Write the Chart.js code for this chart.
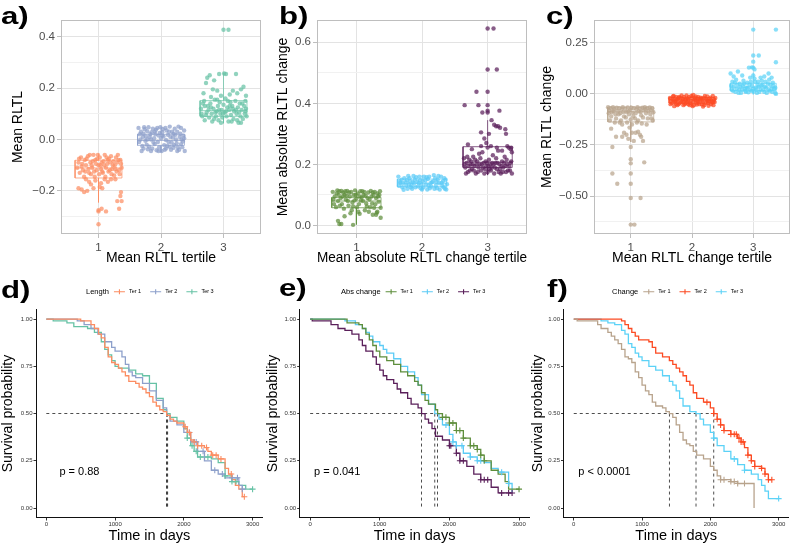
<!DOCTYPE html>
<html><head><meta charset="utf-8">
<script src="https://cdn.jsdelivr.net/npm/chart.js@4.4.1/dist/chart.umd.min.js"></script>
<style>
html,body{margin:0;padding:0;background:#fff;width:794px;height:545px;overflow:hidden;position:relative;}
canvas{position:absolute;}
.lab{position:absolute;font:bold 24px "Liberation Sans",Arial,sans-serif;line-height:24px;color:#000;white-space:nowrap;transform:scaleX(1.3);transform-origin:0 0;}
</style></head><body>
<canvas id="ca" width="265" height="270" style="left:0;top:0"></canvas>
<canvas id="cb" width="280" height="270" style="left:265px;top:0"></canvas>
<canvas id="cc" width="264" height="270" style="left:530px;top:0"></canvas>
<canvas id="cd" width="268" height="275" style="left:0;top:270px"></canvas>
<canvas id="ce" width="270" height="275" style="left:265px;top:270px"></canvas>
<canvas id="cf" width="264" height="275" style="left:530px;top:270px"></canvas>
<div class="lab" style="left:1px;top:4px">a)</div>
<div class="lab" style="left:279px;top:4px">b)</div>
<div class="lab" style="left:546px;top:4px">c)</div>
<div class="lab" style="left:1px;top:278px">d)</div>
<div class="lab" style="left:279px;top:276px">e)</div>
<div class="lab" style="left:547px;top:277px">f)</div>
<script>
// ---------------- DATA ----------------
const tertiles = [1, 2, 3];
const tertileLabels = ['1', '2', '3'];

// panel a: Mean RLTL
const aTer1 = [[0.68,-0.09],[0.72,-0.07],[0.75,-0.12],[0.78,-0.08],[0.80,-0.10],[0.83,-0.065],[0.85,-0.13],[0.87,-0.09],[0.90,-0.11],[0.92,-0.06],[0.95,-0.08],[0.97,-0.12],[1.00,-0.10],[1.02,-0.07],[1.05,-0.09],[1.07,-0.13],[1.10,-0.06],[1.12,-0.11],[1.15,-0.08],[1.18,-0.12],[1.20,-0.065],[1.23,-0.10],[1.25,-0.14],[1.28,-0.07],[1.30,-0.09],[1.33,-0.12],[1.35,-0.08],[1.37,-0.11],
[0.70,-0.13],[0.73,-0.105],[0.77,-0.145],[0.81,-0.075],[0.84,-0.115],[0.88,-0.135],[0.91,-0.085],[0.94,-0.145],[0.98,-0.075],[1.01,-0.135],[1.04,-0.115],[1.08,-0.085],[1.11,-0.145],[1.14,-0.095],[1.17,-0.075],[1.21,-0.135],[1.24,-0.085],[1.27,-0.115],[1.31,-0.06],[1.34,-0.135],[1.36,-0.095],
[0.66,-0.11],[0.69,-0.075],[0.74,-0.095],[0.79,-0.125],[0.86,-0.06],[0.89,-0.10],[0.93,-0.125],[0.96,-0.095],[0.99,-0.06],[1.03,-0.10],[1.06,-0.125],[1.09,-0.10],[1.13,-0.07],[1.16,-0.125],[1.19,-0.09],[1.22,-0.115],[1.26,-0.10],[1.29,-0.125],[1.32,-0.08],
[0.68,-0.19],[0.73,-0.195],[0.77,-0.205],[0.82,-0.20],[0.85,-0.165],[0.88,-0.175],[0.92,-0.19],[0.95,-0.16],[1.00,-0.28],[1.02,-0.185],[1.04,-0.17],[1.06,-0.19],[1.05,-0.27],[1.12,-0.28],[1.15,-0.165],[1.20,-0.155],[1.27,-0.155],[1.30,-0.24],[1.33,-0.27],[1.35,-0.22],[1.37,-0.24],[1.36,-0.205],[1.10,-0.155],[0.80,-0.155]];
const aTer2 = [[1.64,0.045],[1.68,0.03],[1.71,0.01],[1.74,0.04],[1.77,-0.02],[1.80,0.048],[1.83,0.02],[1.86,-0.035],[1.89,0.005],[1.92,0.038],[1.95,-0.01],[1.98,0.025],[2.01,-0.045],[2.04,0.012],[2.07,0.045],[2.10,-0.025],[2.13,0.03],[2.16,-0.04],[2.19,0.008],[2.22,0.042],[2.25,-0.015],[2.28,0.05],[2.31,0.022],[2.34,-0.03],[2.37,0.035],
[1.65,-0.01],[1.69,-0.045],[1.72,0.022],[1.75,-0.005],[1.78,0.032],[1.81,-0.028],[1.84,0.0],[1.87,0.042],[1.90,-0.018],[1.93,-0.042],[1.96,0.015],[1.99,0.048],[2.02,0.028],[2.05,-0.022],[2.08,-0.002],[2.11,0.018],[2.14,0.05],[2.17,-0.012],[2.20,-0.032],[2.23,0.018],[2.26,0.03],[2.29,-0.04],[2.32,0.045],[2.35,-0.008],[2.38,-0.045],
[1.66,0.02],[1.70,-0.025],[1.73,0.048],[1.76,0.012],[1.79,-0.038],[1.82,0.01],[1.85,0.028],[1.88,-0.012],[1.91,0.02],[1.94,0.045],[1.97,-0.03],[2.00,0.005],[2.03,0.04],[2.06,-0.04],[2.09,0.035],[2.12,-0.01],[2.15,0.01],[2.18,0.03],[2.21,-0.022],[2.24,0.0],[2.27,-0.03],[2.30,0.01],[2.33,0.0],[2.36,0.015],
[1.67,0.0],[1.72,-0.035],[1.78,0.0],[1.84,-0.045],[1.90,0.03],[1.96,-0.045],[2.02,0.015],[2.08,-0.035],[2.14,-0.028],[2.20,0.022],[2.26,-0.045],[2.32,-0.018],[2.37,0.005]];
const aTer3 = [[2.78,0.25],[2.93,0.255],[3.01,0.257],[3.04,0.255],[3.20,0.255],[2.74,0.24],[2.85,0.23],[2.72,0.22],[3.32,0.205],[3.28,0.195],[2.83,0.195],[2.90,0.19],[3.15,0.19],[3.22,0.18],[2.68,0.18],[3.10,0.175],[2.96,0.17],[3.36,0.17],[2.80,0.165],
[2.64,0.12],[2.66,0.09],[2.69,0.15],[2.70,0.075],[2.73,0.105],[2.75,0.13],[2.77,0.085],[2.79,0.14],[2.81,0.10],[2.82,0.07],[2.84,0.12],[2.86,0.155],[2.88,0.09],[2.89,0.11],[2.91,0.13],[2.92,0.075],[2.94,0.145],[2.95,0.10],[2.97,0.115],[2.98,0.085],[3.00,0.135],[3.02,0.105],[3.03,0.16],[3.05,0.09],[3.06,0.125],[3.08,0.07],[3.09,0.115],[3.11,0.145],[3.12,0.095],[3.14,0.13],[3.16,0.08],[3.17,0.11],[3.19,0.15],[3.21,0.10],[3.23,0.125],[3.24,0.065],[3.26,0.14],[3.27,0.09],[3.29,0.115],[3.31,0.08],[3.33,0.13],[3.34,0.10],[3.36,0.12],[3.37,0.09],
[2.65,0.10],[2.70,0.13],[2.76,0.115],[2.80,0.125],[2.87,0.105],[2.93,0.115],[2.99,0.10],[3.04,0.11],[3.10,0.13],[3.15,0.12],[3.20,0.115],[3.25,0.105],[3.30,0.14],[3.35,0.11],
[2.72,0.095],[2.85,0.08],[2.96,0.065],[3.13,0.07],[3.28,0.065],[3.22,0.075],[2.67,0.14],[3.07,0.15],[2.90,0.155],[3.35,0.15],[3.08,0.427]];
const aOut1 = [-0.33, -0.275];
const aOut2 = [];
const aOut3 = [0.427];
const aBox1 = [-0.245, -0.150, -0.111, -0.081, -0.055];
const aBox2 = [-0.050, -0.023, -0.004, 0.020, 0.050];
const aBox3 = [0.063, 0.090, 0.112, 0.151, 0.260];
const aYTicks = [-0.2, 0, 0.2, 0.4];
const aYLabels = ['\u22120.2', '0.0', '0.2', '0.4'];
const aYMinor = [-0.3, -0.1, 0.1, 0.3];

// panel b: Mean absolute RLTL change
const bTer1 = [[0.64,0.11],[0.67,0.095],[0.70,0.105],[0.72,0.08],[0.74,0.112],[0.76,0.09],[0.78,0.07],[0.80,0.108],[0.82,0.10],[0.84,0.085],[0.86,0.113],[0.88,0.065],[0.90,0.095],[0.92,0.11],[0.94,0.075],[0.96,0.10],[0.98,0.115],[1.00,0.088],[1.02,0.105],[1.04,0.07],[1.06,0.112],[1.08,0.092],[1.10,0.08],[1.12,0.11],[1.14,0.098],[1.16,0.062],[1.18,0.108],[1.20,0.085],[1.22,0.113],[1.24,0.072],[1.26,0.10],[1.28,0.11],[1.30,0.09],[1.32,0.105],[1.34,0.078],[1.36,0.112],
[0.65,0.085],[0.69,0.06],[0.73,0.10],[0.77,0.113],[0.81,0.055],[0.85,0.098],[0.89,0.108],[0.93,0.05],[0.97,0.082],[1.01,0.06],[1.05,0.095],[1.09,0.112],[1.13,0.05],[1.17,0.09],[1.21,0.06],[1.25,0.108],[1.29,0.07],[1.33,0.095],[1.37,0.058],
[0.66,0.07],[0.71,0.115],[0.75,0.065],[0.79,0.095],[0.83,0.112],[0.87,0.08],[0.91,0.04],[0.95,0.062],[0.99,0.10],[1.03,0.045],[1.07,0.082],[1.11,0.10],[1.15,0.072],[1.19,0.045],[1.23,0.095],[1.27,0.058],[1.31,0.042],[1.35,0.10],
[0.72,0.015],[0.74,0.005],[0.77,0.005],[0.95,0.002],[1.37,0.025],[1.30,0.035],[1.05,0.038],[1.32,0.045],[0.82,0.03],[1.25,0.035]];
const bTer2 = [[1.64,0.16],[1.67,0.14],[1.70,0.125],[1.73,0.155],[1.76,0.13],[1.79,0.162],[1.82,0.145],[1.85,0.12],[1.88,0.138],[1.91,0.158],[1.94,0.128],[1.97,0.148],[2.00,0.118],[2.03,0.16],[2.06,0.135],[2.09,0.152],[2.12,0.122],[2.15,0.142],[2.18,0.165],[2.21,0.13],[2.24,0.15],[2.27,0.118],[2.30,0.14],[2.33,0.125],[2.36,0.15],
[1.65,0.13],[1.69,0.15],[1.72,0.117],[1.75,0.142],[1.78,0.12],[1.81,0.155],[1.84,0.132],[1.87,0.162],[1.90,0.125],[1.93,0.143],[1.96,0.16],[1.99,0.135],[2.02,0.125],[2.05,0.148],[2.08,0.118],[2.11,0.16],[2.14,0.128],[2.17,0.145],[2.20,0.155],[2.23,0.122],[2.26,0.138],[2.29,0.16],[2.32,0.145],[2.35,0.12],[2.38,0.135],
[1.66,0.145],[1.71,0.138],[1.77,0.148],[1.83,0.125],[1.89,0.15],[1.95,0.138],[2.01,0.145],[2.07,0.158],[2.13,0.138],[2.19,0.12],[2.25,0.162],[2.31,0.13],[2.37,0.118],[1.80,0.135],[1.86,0.142],[1.98,0.122],[2.10,0.13],[2.22,0.143],[2.34,0.155]];
const bTer3 = [[2.64,0.22],[2.66,0.19],[2.68,0.205],[2.70,0.175],[2.72,0.215],[2.74,0.20],[2.76,0.185],[2.78,0.225],[2.80,0.195],[2.82,0.17],[2.84,0.21],[2.86,0.19],[2.88,0.20],[2.90,0.18],[2.92,0.24],[2.94,0.205],[2.96,0.185],[2.98,0.195],[3.00,0.175],[3.02,0.215],[3.04,0.20],[3.06,0.19],[3.08,0.23],[3.10,0.17],[3.12,0.205],[3.14,0.185],[3.16,0.245],[3.18,0.20],[3.20,0.17],[3.22,0.21],[3.24,0.19],[3.26,0.225],[3.28,0.175],[3.30,0.20],[3.32,0.255],[3.34,0.18],[3.36,0.21],[3.37,0.17],
[2.65,0.20],[2.69,0.225],[2.73,0.18],[2.77,0.20],[2.81,0.215],[2.85,0.175],[2.89,0.22],[2.93,0.19],[2.97,0.21],[3.01,0.195],[3.05,0.18],[3.09,0.20],[3.13,0.22],[3.17,0.175],[3.21,0.195],[3.25,0.205],[3.29,0.215],[3.33,0.195],[3.37,0.24],
[2.67,0.17],[2.71,0.195],[2.75,0.21],[2.79,0.18],[2.83,0.20],[2.87,0.235],[2.91,0.20],[2.95,0.17],[2.99,0.205],[3.03,0.185],[3.07,0.205],[3.11,0.19],[3.15,0.205],[3.19,0.185],[3.23,0.175],[3.27,0.195],[3.31,0.18],[3.35,0.205],
[2.70,0.265],[2.76,0.25],[2.98,0.27],[3.00,0.255],[3.05,0.26],[3.14,0.255],[3.22,0.245],[3.30,0.26],[3.36,0.255],[3.35,0.25],[2.90,0.26],
[3.02,0.30],[3.10,0.33],[3.13,0.325],[3.16,0.325],[3.19,0.32],[3.27,0.315],[3.28,0.30],[2.90,0.305],[3.06,0.345],[2.95,0.285],
[3.09,0.645],[3.14,0.511],[2.83,0.438],[2.65,0.394],[2.86,0.394],[2.92,0.37],[3.18,0.376]];
const bOut1 = [];
const bOut2 = [];
const bOut3 = [0.645, 0.511, 0.438, 0.394, 0.376, 0.37];
const bBox1 = [0.003, 0.058, 0.080, 0.092, 0.115];
const bBox2 = [0.115, 0.127, 0.138, 0.152, 0.165];
const bBox3 = [0.165, 0.190, 0.207, 0.258, 0.345];
const bYTicks = [0, 0.2, 0.4, 0.6];
const bYLabels = ['0.0', '0.2', '0.4', '0.6'];
const bYMinor = [0.1, 0.3, 0.5];

// panel c: Mean RLTL change
const cTer1 = [[0.63,-0.065],[0.65,-0.08],[0.67,-0.07],[0.69,-0.09],[0.71,-0.065],[0.73,-0.075],[0.75,-0.10],[0.77,-0.068],[0.79,-0.085],[0.81,-0.07],[0.83,-0.095],[0.85,-0.075],[0.87,-0.065],[0.89,-0.11],[0.91,-0.072],[0.93,-0.088],[0.95,-0.066],[0.97,-0.10],[0.99,-0.078],[1.01,-0.068],[1.03,-0.092],[1.05,-0.07],[1.07,-0.12],[1.09,-0.075],[1.11,-0.065],[1.13,-0.085],[1.15,-0.072],[1.17,-0.105],[1.19,-0.068],[1.21,-0.08],[1.23,-0.065],[1.25,-0.095],[1.27,-0.07],[1.29,-0.085],[1.31,-0.066],[1.33,-0.078],[1.35,-0.07],[1.37,-0.09],
[0.64,-0.095],[0.68,-0.11],[0.72,-0.085],[0.76,-0.12],[0.80,-0.10],[0.84,-0.13],[0.88,-0.088],[0.92,-0.115],[0.96,-0.085],[1.00,-0.125],[1.04,-0.11],[1.08,-0.095],[1.12,-0.13],[1.16,-0.088],[1.20,-0.115],[1.24,-0.075],[1.28,-0.12],[1.32,-0.10],[1.36,-0.13],
[0.66,-0.13],[0.74,-0.14],[0.86,-0.15],[0.94,-0.14],[1.02,-0.15],[1.10,-0.14],[1.18,-0.145],[1.26,-0.15],[1.34,-0.12],
[0.68,-0.17],[0.82,-0.14],[0.89,-0.19],[0.93,-0.20],[0.96,-0.22],[1.02,-0.19],[0.98,-0.165],[1.08,-0.19],[1.15,-0.20],[1.17,-0.21],[1.05,-0.23],[0.86,-0.21],[1.12,-0.185],[0.76,-0.21],[1.20,-0.23],
[0.70,-0.26],[1.22,-0.335],[0.70,-0.39],[0.78,-0.44],[1.16,-0.51],[1.06,-0.64]];
const cTer2 = [[1.64,-0.02],[1.67,-0.045],[1.70,-0.01],[1.73,-0.035],[1.76,-0.055],[1.79,-0.015],[1.82,-0.04],[1.85,-0.025],[1.88,-0.05],[1.91,-0.008],[1.94,-0.03],[1.97,-0.045],[2.00,-0.02],[2.03,-0.055],[2.06,-0.012],[2.09,-0.035],[2.12,-0.05],[2.15,-0.022],[2.18,-0.04],[2.21,-0.01],[2.24,-0.03],[2.27,-0.058],[2.30,-0.018],[2.33,-0.042],[2.36,-0.028],
[1.65,-0.05],[1.68,-0.025],[1.71,-0.06],[1.74,-0.015],[1.77,-0.03],[1.80,-0.045],[1.83,-0.008],[1.86,-0.055],[1.89,-0.028],[1.92,-0.04],[1.95,-0.015],[1.98,-0.035],[2.01,-0.06],[2.04,-0.028],[2.07,-0.045],[2.10,-0.015],[2.13,-0.03],[2.16,-0.05],[2.19,-0.02],[2.22,-0.045],[2.25,-0.012],[2.28,-0.035],[2.31,-0.05],[2.34,-0.01],[2.37,-0.04],
[1.66,-0.035],[1.69,-0.012],[1.72,-0.04],[1.75,-0.028],[1.78,-0.05],[1.81,-0.02],[1.84,-0.033],[1.87,-0.015],[1.90,-0.045],[1.93,-0.022],[1.96,-0.055],[1.99,-0.01],[2.02,-0.038],[2.05,-0.02],[2.08,-0.052],[2.11,-0.04],[2.14,-0.018],[2.17,-0.03],[2.20,-0.055],[2.23,-0.025],[2.26,-0.045],[2.29,-0.025],[2.32,-0.032],[2.35,-0.055],[2.38,-0.02],
[1.70,-0.03],[1.78,-0.02],[1.86,-0.04],[1.94,-0.05],[2.02,-0.005],[2.10,-0.025],[2.18,-0.062],[2.26,-0.035],[2.34,-0.038],[1.74,-0.048],[1.90,-0.03],[2.06,-0.03]];
const cTer3 = [[2.64,0.04],[2.67,0.015],[2.70,0.055],[2.73,0.025],[2.76,0.005],[2.79,0.035],[2.82,0.02],[2.85,0.05],[2.88,0.01],[2.91,0.03],[2.94,0.045],[2.97,0.015],[3.00,0.025],[3.03,0.06],[3.06,0.005],[3.09,0.035],[3.12,0.02],[3.15,0.045],[3.18,0.01],[3.21,0.03],[3.24,0.05],[3.27,0.015],[3.30,0.025],[3.33,0.04],[3.36,0.005],
[2.65,0.02],[2.68,0.035],[2.71,0.01],[2.74,0.045],[2.77,0.02],[2.80,0.005],[2.83,0.04],[2.86,0.025],[2.89,0.03],[2.92,0.008],[2.95,0.02],[2.98,0.04],[3.01,0.012],[3.04,0.03],[3.07,0.045],[3.10,0.01],[3.13,0.04],[3.16,0.02],[3.19,0.035],[3.22,0.005],[3.25,0.02],[3.28,0.045],[3.31,0.01],[3.34,0.025],[3.37,0.0],
[2.66,0.06],[2.72,0.07],[2.78,0.05],[2.84,0.065],[2.90,0.055],[2.96,0.06],[3.02,0.075],[3.08,0.06],[3.14,0.065],[3.20,0.06],[3.26,0.07],[3.32,0.055],[3.36,0.03],[3.05,0.02],[2.87,0.015],
[2.63,0.10],[2.68,0.085],[2.75,0.11],[2.82,0.09],[2.95,0.08],[3.00,0.09],[3.12,0.08],[3.18,0.085],[3.25,0.10],[3.30,0.08],[2.98,0.13],[3.02,0.12],
[3.37,0.315],[3.09,0.188],[3.37,0.155],[2.93,0.129]];
const cOut1 = [-0.26, -0.32, -0.34, -0.39, -0.44, -0.51, -0.64];
const cOut2 = [];
const cOut3 = [0.315, 0.188, 0.158, 0.129];
const cBox1 = [-0.235, -0.137, -0.088, -0.064, -0.055];
const cBox2 = [-0.062, -0.045, -0.030, -0.018, -0.001];
const cBox3 = [-0.002, 0.016, 0.033, 0.052, 0.105];
const cYTicks = [-0.5, -0.25, 0, 0.25];
const cYLabels = ['\u22120.50', '\u22120.25', '0.00', '0.25'];
const cYMinor = [-0.625, -0.375, -0.125, 0.125];

// KM panels: [time, survival]
const dTer1 = [[0,1],[480,1],[500,0.99],[650,0.97],[700,0.95],[760,0.92],[800,0.90],[850,0.85],[900,0.80],[950,0.77],[1000,0.76],[1050,0.74],[1100,0.72],[1150,0.70],[1200,0.67],[1300,0.66],[1350,0.64],[1400,0.63],[1450,0.61],[1500,0.59],[1550,0.56],[1600,0.54],[1650,0.52],[1700,0.51],[1750,0.49],[1800,0.47],[1850,0.46],[1900,0.45],[2000,0.43],[2050,0.40],[2100,0.36],[2150,0.35],[2200,0.33],[2300,0.32],[2350,0.30],[2400,0.28],[2500,0.26],[2600,0.21],[2650,0.18],[2700,0.15],[2750,0.12],[2800,0.10],[2850,0.06],[2880,0.06]];
const dTer2 = [[0,1],[300,1],[450,0.99],[550,0.97],[650,0.95],[750,0.92],[850,0.88],[950,0.85],[1000,0.83],[1100,0.80],[1150,0.76],[1200,0.72],[1250,0.70],[1300,0.69],[1400,0.66],[1500,0.62],[1600,0.57],[1700,0.53],[1750,0.49],[1800,0.46],[1900,0.44],[2000,0.40],[2100,0.35],[2200,0.30],[2300,0.25],[2400,0.20],[2500,0.18],[2600,0.16],[2750,0.16],[2800,0.12],[2850,0.10],[2900,0.10]];
const dTer3 = [[0,1],[100,0.99],[300,0.98],[400,0.96],[600,0.95],[700,0.93],[800,0.88],[850,0.84],[900,0.81],[950,0.78],[1000,0.75],[1050,0.74],[1200,0.73],[1300,0.71],[1400,0.70],[1500,0.66],[1600,0.58],[1700,0.52],[1750,0.50],[1800,0.48],[1900,0.46],[2000,0.42],[2050,0.37],[2100,0.33],[2150,0.30],[2200,0.27],[2400,0.26],[2500,0.24],[2600,0.17],[2700,0.14],[2800,0.12],[2900,0.10],[3000,0.10]];
const dCens1 = [2020, 2080, 2150, 2200, 2260, 2330, 2420, 2470, 2540, 2690, 2880];
const dCens2 = [2080, 2150, 2180, 2280, 2450, 2560, 2700, 2780, 2850];
const dCens3 = [2050, 2120, 2180, 2240, 2350, 2600, 2700, 2760, 3000];
const dMedians = [1750, 1755, 1765];

const eTer1 = [[0,1],[500,1],[530,0.98],[700,0.97],[750,0.95],[800,0.92],[850,0.89],[900,0.86],[950,0.83],[1000,0.80],[1100,0.78],[1200,0.76],[1300,0.72],[1400,0.70],[1500,0.67],[1550,0.65],[1600,0.61],[1650,0.57],[1700,0.55],[1800,0.52],[1830,0.50],[1900,0.48],[2000,0.45],[2100,0.41],[2200,0.37],[2300,0.33],[2400,0.31],[2450,0.28],[2500,0.25],[2600,0.20],[2700,0.18],[2800,0.14],[2850,0.10],[3000,0.10]];
const eTer2 = [[0,1],[400,1],[500,0.99],[650,0.97],[750,0.95],[800,0.93],[850,0.91],[900,0.88],[1000,0.86],[1050,0.84],[1100,0.82],[1200,0.79],[1300,0.75],[1400,0.72],[1500,0.69],[1550,0.65],[1600,0.60],[1700,0.55],[1790,0.50],[1850,0.47],[1900,0.44],[2000,0.39],[2050,0.35],[2100,0.33],[2200,0.29],[2300,0.27],[2400,0.25],[2500,0.24],[2600,0.21],[2700,0.19],[2800,0.19],[2850,0.13],[2900,0.08]];
const eTer3 = [[0,1],[30,0.99],[250,0.99],[300,0.97],[400,0.95],[500,0.94],[600,0.92],[700,0.89],[750,0.86],[800,0.83],[900,0.80],[950,0.76],[1000,0.73],[1050,0.70],[1100,0.68],[1200,0.66],[1250,0.63],[1300,0.61],[1400,0.58],[1450,0.55],[1550,0.53],[1600,0.50],[1650,0.47],[1700,0.45],[1750,0.42],[1800,0.38],[1900,0.36],[2000,0.33],[2100,0.29],[2150,0.25],[2250,0.22],[2350,0.18],[2450,0.15],[2600,0.11],[2700,0.08],[2900,0.08]];
const eCens1 = [1900, 1950, 2000, 2050, 2100, 2150, 2200, 2300, 2350, 2400, 2450, 2500, 3000];
const eCens2 = [1950, 2050, 2100, 2180, 2300, 2400, 2450, 2750, 2850];
const eCens3 = [2000, 2020, 2100, 2150, 2200, 2450, 2500, 2550, 2750, 2850, 2900];
const eMedians = [1830, 1790, 1600];

const fTer1 = [[0,1],[50,0.99],[300,0.99],[350,0.97],[400,0.95],[500,0.93],[550,0.91],[600,0.89],[650,0.87],[700,0.84],[750,0.80],[800,0.79],[850,0.77],[900,0.72],[950,0.69],[1000,0.65],[1050,0.62],[1100,0.60],[1150,0.56],[1200,0.54],[1300,0.53],[1350,0.51],[1400,0.50],[1450,0.48],[1500,0.44],[1550,0.40],[1600,0.36],[1650,0.34],[1700,0.33],[1750,0.30],[1800,0.28],[1900,0.26],[2000,0.22],[2050,0.20],[2100,0.17],[2150,0.15],[2300,0.14],[2400,0.13],[2630,0.13],[2640,0.0]];
const fTer2 = [[0,1],[650,1],[700,0.99],[750,0.97],[800,0.95],[850,0.93],[900,0.91],[950,0.89],[1100,0.88],[1150,0.85],[1200,0.82],[1300,0.80],[1400,0.78],[1450,0.76],[1500,0.74],[1550,0.72],[1600,0.70],[1650,0.67],[1700,0.65],[1750,0.61],[1800,0.58],[1900,0.56],[2000,0.53],[2050,0.50],[2100,0.47],[2150,0.44],[2200,0.41],[2300,0.39],[2400,0.37],[2450,0.35],[2500,0.32],[2550,0.28],[2600,0.25],[2650,0.22],[2750,0.21],[2800,0.18],[2850,0.15],[2900,0.15]];
const fTer3 = [[0,1],[300,1],[400,0.99],[500,0.98],[600,0.97],[700,0.94],[750,0.92],[800,0.87],[850,0.85],[900,0.82],[950,0.80],[1000,0.78],[1100,0.75],[1200,0.73],[1300,0.70],[1400,0.67],[1450,0.65],[1500,0.62],[1550,0.58],[1600,0.54],[1700,0.51],[1790,0.50],[1850,0.47],[1900,0.44],[2000,0.40],[2050,0.37],[2100,0.33],[2200,0.30],[2300,0.26],[2400,0.23],[2500,0.20],[2600,0.18],[2700,0.15],[2750,0.12],[2800,0.09],[2850,0.05],[3000,0.05]];
const fCens1 = [2150, 2200, 2300, 2350, 2400, 2500];
const fCens2 = [1950, 2050, 2100, 2150, 2200, 2300, 2350, 2380, 2420, 2450, 2480, 2550, 2600, 2650, 2750, 2800, 2850, 2900];
const fCens3 = [2050, 2350, 2500, 3000];
const fMedians = [1400, 2050, 1790];

const kmXTicks = [0, 1000, 2000, 3000];
const kmXLabels = ['0', '1000', '2000', '3000'];
const kmYTicks = [0, 0.25, 0.5, 0.75, 1];
const kmYLabels = ['0.00', '0.25', '0.50', '0.75', '1.00'];
const terNames = ['Ter 1', 'Ter 2', 'Ter 3'];

// ---------------- STYLE / HELPERS ----------------
const FONT = '"Liberation Sans", Arial, Helvetica, sans-serif';
Chart.defaults.font.family = FONT;
function rgba(hex, a) {
  const n = parseInt(hex.slice(1), 16);
  return `rgba(${(n >> 16) & 255},${(n >> 8) & 255},${n & 255},${a})`;
}
const colA = ['#FC8D62', '#8DA0CB', '#66C2A5'];
const colB = ['#5E8E3C', '#5CCBF6', '#5A1F5A'];
const colC = ['#B8A38C', '#FC4A22', '#5CD2F7'];

function boxLine(c, b) {
  const w = 0.375;
  return [{x:c-w,y:b[1]},{x:c+w,y:b[1]},{x:c+w,y:b[3]},{x:c-w,y:b[3]},{x:c-w,y:b[1]},{x:c,y:null},
          {x:c-w,y:b[2]},{x:c+w,y:b[2]},{x:c,y:null},
          {x:c,y:b[3]},{x:c,y:b[4]},{x:c,y:null},
          {x:c,y:b[1]},{x:c,y:b[0]}];
}
const borderPlugin = {
  id: 'panelBorder',
  afterDraw(chart) {
    const a = chart.chartArea, ctx = chart.ctx;
    ctx.save(); ctx.strokeStyle = '#BEBEBE'; ctx.lineWidth = 1;
    ctx.strokeRect(Math.round(a.left) + 0.5, Math.round(a.top) + 0.5, Math.round(a.right - a.left) - 1, Math.round(a.bottom - a.top) - 1);
    ctx.restore();
  }
};

function topChart(id, s) {
  const ds = [];
  [0,1,2].forEach(g => {
    ds.push({type:'scatter', data: s.pts[g].map(p => ({x:p[0], y:p[1]})), pointRadius: 2.2, pointHoverRadius: 2.2,
      backgroundColor: rgba(s.cols[g], 0.72), borderWidth: 0});
    ds.push({type:'scatter', data: s.outs[g].map(v => ({x: tertiles[g], y: v})), pointRadius: 2.2,
      backgroundColor: rgba(s.cols[g], 0.72), borderWidth: 0});
  });
  [0,1,2].forEach(g => {
    ds.push({type:'line', data: boxLine(tertiles[g], s.boxes[g]), borderColor: rgba(s.cols[g], 0.8), borderWidth: 0.9,
      pointRadius: 0, fill: false, spanGaps: false, tension: 0});
  });
  const isMinor = v => s.yMinor.includes(v);
  new Chart(document.getElementById(id), {
    type: 'scatter',
    data: { datasets: ds },
    options: {
      responsive: false, animation: false, devicePixelRatio: 1,
      events: [],
      layout: { padding: { left: 0, top: s.padTop, right: s.padRight, bottom: 0 } },
      plugins: { legend: { display: false }, tooltip: { enabled: false } },
      scales: {
        x: {
          type: 'linear', min: 0.4, max: 3.6,
          afterBuildTicks: sc => { sc.ticks = tertiles.map(v => ({value: v})); },
          afterFit: sc => { sc.height = s.xAxisH; sc.paddingLeft = 0; sc.paddingRight = 0; },
          ticks: { autoSkip: false, maxRotation: 0, padding: 2.5, color: '#4D4D4D', font: { size: 11.5 },
                   callback: v => tertileLabels[tertiles.indexOf(v)] },
          grid: { color: '#E3E3E3', lineWidth: 1, tickLength: 4, tickColor: '#BEBEBE' },
          border: { display: false },
          title: { display: true, text: s.xTitle, color: '#000', font: { size: 14, lineHeight: 1.2 }, padding: { top: 0, bottom: 3.6 } }
        },
        y: {
          type: 'linear', min: s.yMin, max: s.yMax,
          afterBuildTicks: sc => { sc.ticks = s.yTicks.concat(s.yMinor).sort((p,q)=>p-q).map(v => ({value: v})); },
          afterFit: sc => { sc.width = s.yAxisW; sc.paddingTop = 0; sc.paddingBottom = 0; },
          ticks: { autoSkip: false, padding: 2, color: '#4D4D4D', font: { size: 11.5 },
                   callback: v => { const i = s.yTicks.indexOf(v); return i >= 0 ? s.yLabels[i] : ''; } },
          grid: { color: c => (c.tick && isMinor(c.tick.value)) ? '#F1F1F1' : '#E3E3E3', lineWidth: 1, tickLength: 4,
                  tickColor: c => (c.tick && isMinor(c.tick.value)) ? 'rgba(0,0,0,0)' : '#BEBEBE' },
          border: { display: false },
          title: { display: true, text: s.yTitle, color: '#000', font: { size: 14, lineHeight: 1.2 }, padding: { top: s.yTitlePad, bottom: 0 } }
        }
      }
    },
    plugins: [borderPlugin]
  });
}

function survAt(curve, t) {
  let v = curve[0][1];
  for (const [tt, ss] of curve) if (tt <= t) v = ss;
  return v;
}

function kmChart(id, s) {
  const ds = [];
  [0,1,2].forEach(g => {
    ds.push({type:'scatter', data: s.cens[g].map(t => ({x: t, y: survAt(s.curves[g], t)})), pointStyle: 'cross',
      pointRadius: 3, borderColor: s.cols[g], backgroundColor: s.cols[g], borderWidth: 1.1});
  });
  [0,1,2].forEach(g => {
    ds.push({type:'line', data: s.curves[g].map(p => ({x: p[0], y: p[1]})), stepped: 'before', borderColor: s.cols[g],
      borderWidth: 1.3, pointRadius: 0, fill: false});
  });
  const medMax = Math.max(...s.medians);
  ds.push({type:'line', data: [{x: 0, y: 0.5}, {x: medMax, y: 0.5}], borderColor: '#222', borderWidth: 0.8,
    borderDash: [3, 3], pointRadius: 0, fill: false});
  s.medians.forEach(m => {
    ds.push({type:'line', data: [{x: m, y: 0.5}, {x: m, y: 0}], borderColor: '#222', borderWidth: 0.8,
      borderDash: [3, 3], pointRadius: 0, fill: false});
  });
  const legendPlugin = {
    id: 'kmLegend',
    afterDraw(chart) {
      const ctx = chart.ctx; ctx.save();
      ctx.textBaseline = 'middle'; ctx.textAlign = 'left';
      ctx.font = '7.5px ' + FONT; ctx.fillStyle = '#000';
      const yc = s.legendY; let x = s.legendX;
      ctx.fillText(s.legendTitle, x, yc);
      x += ctx.measureText(s.legendTitle).width + 5;
      terNames.forEach((l, i) => {
        ctx.strokeStyle = s.cols[i]; ctx.lineWidth = 1.1;
        ctx.beginPath(); ctx.moveTo(x, yc); ctx.lineTo(x + 11, yc);
        ctx.moveTo(x + 5.5, yc - 2.5); ctx.lineTo(x + 5.5, yc + 2.5); ctx.stroke();
        x += 15;
        ctx.font = '5.5px ' + FONT; ctx.fillStyle = '#000';
        ctx.fillText(l, x, yc);
        x += ctx.measureText(l).width + 9;
      });
      const xs = chart.scales.x, ys = chart.scales.y;
      ctx.font = '11px ' + FONT; ctx.fillStyle = '#000';
      ctx.fillText(s.pText, xs.getPixelForValue(s.pAt[0]), ys.getPixelForValue(s.pAt[1]));
      ctx.restore();
    }
  };
  new Chart(document.getElementById(id), {
    type: 'scatter',
    data: { datasets: ds },
    options: {
      responsive: false, animation: false, devicePixelRatio: 1, events: [],
      layout: { padding: { left: 0, top: s.padTop, right: s.padRight, bottom: 0 } },
      plugins: { legend: { display: false }, tooltip: { enabled: false } },
      scales: {
        x: {
          type: 'linear', min: -150, max: 3150,
          afterBuildTicks: sc => { sc.ticks = kmXTicks.map(v => ({value: v})); },
          afterFit: sc => { sc.height = s.xAxisH; sc.paddingLeft = 0; sc.paddingRight = 0; },
          ticks: { autoSkip: false, maxRotation: 0, padding: 0.5, color: '#333', font: { size: 6 },
                   callback: v => kmXLabels[kmXTicks.indexOf(v)] },
          grid: { drawOnChartArea: false, drawTicks: true, tickLength: 3, tickColor: '#333' },
          border: { display: true, color: '#111', width: 1 },
          title: { display: true, text: 'Time in days', color: '#000', font: { size: 14.5, lineHeight: 1.2 }, padding: { top: 0, bottom: 0 } }
        },
        y: {
          type: 'linear', min: -0.05, max: 1.05,
          afterBuildTicks: sc => { sc.ticks = kmYTicks.map(v => ({value: v})); },
          afterFit: sc => { sc.width = s.yAxisW; sc.paddingTop = 0; sc.paddingBottom = 0; },
          ticks: { autoSkip: false, padding: 1, color: '#333', font: { size: 6 },
                   callback: v => kmYLabels[kmYTicks.indexOf(v)] },
          grid: { drawOnChartArea: false, drawTicks: true, tickLength: 2.5, tickColor: '#333' },
          border: { display: true, color: '#111', width: 1 },
          title: { display: true, text: 'Survival probability', color: '#000', font: { size: 14, lineHeight: 1.2 }, padding: { top: 0, bottom: 0 } }
        }
      }
    },
    plugins: [legendPlugin]
  });
}

// ---------------- BUILD ----------------
topChart('ca', { pts: [aTer1, aTer2, aTer3], outs: [aOut1, aOut2, aOut3], boxes: [aBox1, aBox2, aBox3], cols: colA,
  yMin: -0.368, yMax: 0.465, yTicks: aYTicks, yLabels: aYLabels, yMinor: aYMinor,
  xTitle: 'Mean RLTL tertile', yTitle: 'Mean RLTL', yAxisW: 61, padTop: 20, padRight: 2, xAxisH: 36, yTitlePad: 9.6 });
topChart('cb', { pts: [bTer1, bTer2, bTer3], outs: [bOut1, bOut2, bOut3], boxes: [bBox1, bBox2, bBox3], cols: colB,
  yMin: -0.028, yMax: 0.673, yTicks: bYTicks, yLabels: bYLabels, yMinor: bYMinor,
  xTitle: 'Mean absolute RLTL change tertile', yTitle: 'Mean absolute RLTL change', yAxisW: 52, padTop: 20, padRight: 18, xAxisH: 36, yTitlePad: 9.9 });
topChart('cc', { pts: [cTer1, cTer2, cTer3], outs: [cOut1, cOut2, cOut3], boxes: [cBox1, cBox2, cBox3], cols: colC,
  yMin: -0.686, yMax: 0.362, yTicks: cYTicks, yLabels: cYLabels, yMinor: cYMinor,
  xTitle: 'Mean RLTL change tertile', yTitle: 'Mean RLTL change', yAxisW: 64, padTop: 20, padRight: 4, xAxisH: 36, yTitlePad: 8.3 });

kmChart('cd', { curves: [dTer1, dTer2, dTer3], cens: [dCens1, dCens2, dCens3], medians: dMedians, cols: colA,
  legendTitle: 'Length', legendX: 86, legendY: 21.7, pText: 'p = 0.88', pAt: [190, 0.19],
  yAxisW: 36, padTop: 39.6, padRight: 2, xAxisH: 27.5 });
kmChart('ce', { curves: [eTer1, eTer2, eTer3], cens: [eCens1, eCens2, eCens3], medians: eMedians, cols: colB,
  legendTitle: 'Abs change', legendX: 76, legendY: 21.7, pText: 'p = 0.041', pAt: [57, 0.19],
  yAxisW: 34.7, padTop: 39.6, padRight: 5.5, xAxisH: 27.5 });
kmChart('cf', { curves: [fTer1, fTer2, fTer3], cens: [fCens1, fCens2, fCens3], medians: fMedians, cols: colC,
  legendTitle: 'Change', legendX: 82, legendY: 21.7, pText: 'p < 0.0001', pAt: [67, 0.19],
  yAxisW: 33.5, padTop: 39.6, padRight: 0.5, xAxisH: 27.5 });
</script>
</body></html>
